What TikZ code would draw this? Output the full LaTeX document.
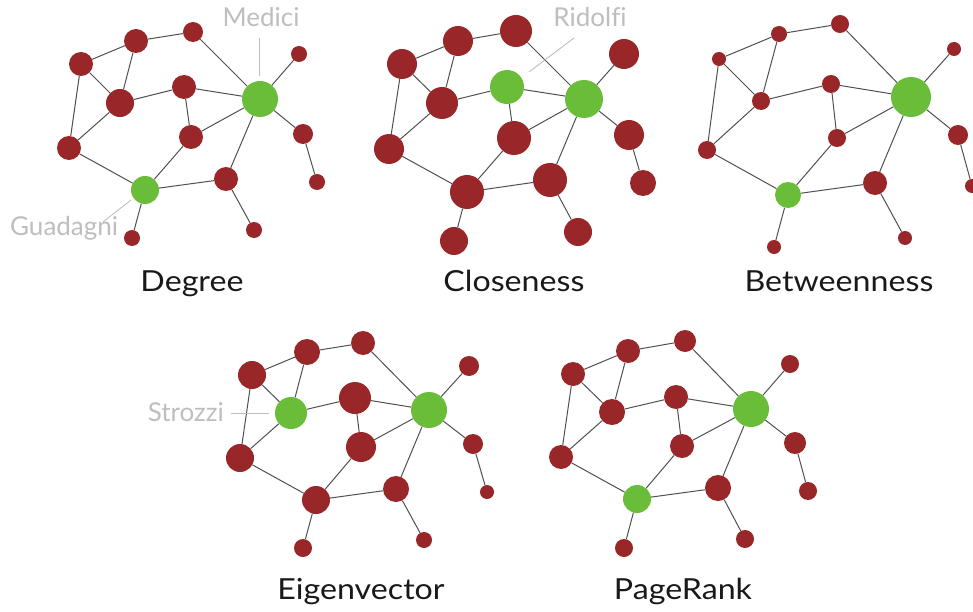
\documentclass[tikz,border=0pt]{standalone}
\usepackage{fontspec}
\setmainfont{Lato}[Ligatures=NoCommon]
\newfontfamily\titlefont{Lato}[FakeStretch=1.11]
\definecolor{nodered}{RGB}{153,38,40}
\definecolor{nodegreen}{RGB}{106,189,56}
\definecolor{edgegray}{RGB}{80,80,80}
\definecolor{labelgray}{RGB}{190,190,190}
\definecolor{titleblack}{RGB}{25,25,25}

% Florentine families network: the same twenty ties in every panel
\newcommand\netedges[1]{%
  \foreach \u/\v in {A/B,A/F,B/C,B/D,C/D,C/I,D/E,D/I,E/F,E/H,H/F,H/J,I/J,J/K,K/F,F/G,F/L,L/M,J/N,K/O}
    \draw[edge] (#1\u) -- (#1\v);}

\begin{document}
\begin{tikzpicture}[x=1pt,y=-1pt,
  rn/.style={circle, fill=nodered, draw=none, inner sep=0pt, minimum size=#1},
  gn/.style={circle, fill=nodegreen, draw=none, inner sep=0pt, minimum size=#1},
  edge/.style={draw=edgegray, line width=1pt},
  title/.style={anchor=base, text=titleblack, font=\titlefont\fontsize{29}{34}\selectfont, inner sep=0pt},
  famlabel/.style={text=labelgray, font=\fontsize{26}{30}\selectfont, inner sep=0pt},
  lead/.style={draw=labelgray, line width=0.9pt}]
\useasboundingbox (0,0) rectangle (973,612);
\clip (0,0) rectangle (973,612);

% ---------- Degree ----------
\node[rn=20pt] (dA) at (193,32) {};
\node[rn=24pt] (dB) at (136,41) {};
\node[rn=24pt] (dC) at (81,64) {};
\node[rn=28pt] (dD) at (120,103) {};
\node[rn=24pt] (dE) at (184,87) {};
\node[gn=36pt] (dF) at (260,99) {};
\node[rn=16pt] (dG) at (299,54) {};
\node[rn=24pt] (dH) at (191,137) {};
\node[rn=24pt] (dI) at (69,148) {};
\node[gn=28pt] (dJ) at (145,190) {};
\node[rn=24pt] (dK) at (226,179) {};
\node[rn=20pt] (dL) at (303,134) {};
\node[rn=16pt] (dM) at (317,182) {};
\node[rn=16pt] (dN) at (132,238) {};
\node[rn=16pt] (dO) at (254,230) {};
\netedges{d}
\node[title] (tDeg) at (192,291) {Degree};
\node[famlabel] (lMed) at (261,17) {Medici};
\coordinate (mA) at (259,38);
\coordinate (mB) at (259,76);
\draw[lead] (mA) -- (mB);
\node[famlabel, anchor=west] (lGua) at (10,228) {Guadagni};
\coordinate (gA) at (103,222);
\coordinate (gB) at (131,200);
\draw[lead] (gA) -- (gB);

% ---------- Closeness ----------
\node[rn=32pt] (cA) at (516,31) {};
\node[rn=30pt] (cB) at (458,41) {};
\node[rn=30pt] (cC) at (402,64) {};
\node[rn=32pt] (cD) at (442,103) {};
\node[gn=34pt] (cE) at (507,87) {};
\node[gn=38pt] (cF) at (584,99) {};
\node[rn=30pt] (cG) at (624,54) {};
\node[rn=34pt] (cH) at (514,138) {};
\node[rn=30pt] (cI) at (389,149) {};
\node[rn=34pt] (cJ) at (467,192) {};
\node[rn=34pt] (cK) at (550,180) {};
\node[rn=30pt] (cL) at (629,135) {};
\node[rn=26pt] (cM) at (643,183) {};
\node[rn=28pt] (cN) at (454,241) {};
\node[rn=28pt] (cO) at (578,232) {};
\netedges{c}
\node[title] (tClo) at (514,291) {Closeness};
\node[famlabel] (lRid) at (590,17) {Ridolfi};
\coordinate (rA) at (574,38);
\coordinate (rB) at (529,72);
\draw[lead] (rA) -- (rB);

% ---------- Betweenness ----------
\node[rn=18pt] (bA) at (840,24) {};
\node[rn=16pt] (bB) at (779,34) {};
\node[rn=14pt] (bC) at (719,59) {};
\node[rn=18pt] (bD) at (761,101) {};
\node[rn=18pt] (bE) at (831,84) {};
\node[gn=40pt] (bF) at (911,97) {};
\node[rn=14pt] (bG) at (954,49) {};
\node[rn=18pt] (bH) at (837,138) {};
\node[rn=18pt] (bI) at (707,150) {};
\node[gn=26pt] (bJ) at (788,195) {};
\node[rn=24pt] (bK) at (875,183) {};
\node[rn=20pt] (bL) at (958,135) {};
\node[rn=14pt] (bM) at (972,186) {};
\node[rn=14pt] (bN) at (774,247) {};
\node[rn=14pt] (bO) at (905,238) {};
\netedges{b}
\node[title] (tBet) at (839,291) {Betweenness};

% ---------- Eigenvector ----------
\node[rn=24pt] (eA) at (363,343) {};
\node[rn=26pt] (eB) at (307,352) {};
\node[rn=28pt] (eC) at (252,375) {};
\node[gn=32pt] (eD) at (291,413) {};
\node[rn=32pt] (eE) at (355,398) {};
\node[gn=36pt] (eF) at (429,410) {};
\node[rn=20pt] (eG) at (469,366) {};
\node[rn=30pt] (eH) at (361,447) {};
\node[rn=28pt] (eI) at (240,458) {};
\node[rn=28pt] (eJ) at (316,500) {};
\node[rn=26pt] (eK) at (396,489) {};
\node[rn=20pt] (eL) at (473,444) {};
\node[rn=14pt] (eM) at (487,492) {};
\node[rn=18pt] (eN) at (303,548) {};
\node[rn=16pt] (eO) at (424,540) {};
\netedges{e}
\node[title] (tEig) at (361,599) {Eigenvector};
\node[famlabel, anchor=east] (lStr) at (224,412) {Strozzi};
\coordinate (sA) at (231,413);
\coordinate (sB) at (269,413);
\draw[lead] (sA) -- (sB);

% ---------- PageRank ----------
\node[rn=22pt] (pA) at (685,341) {};
\node[rn=24pt] (pB) at (628,351) {};
\node[rn=24pt] (pC) at (573,374) {};
\node[rn=26pt] (pD) at (612,412) {};
\node[rn=24pt] (pE) at (676,397) {};
\node[gn=36pt] (pF) at (751,409) {};
\node[rn=18pt] (pG) at (790,364) {};
\node[rn=24pt] (pH) at (682,446) {};
\node[rn=24pt] (pI) at (561,457) {};
\node[gn=28pt] (pJ) at (637,499) {};
\node[rn=26pt] (pK) at (718,488) {};
\node[rn=22pt] (pL) at (795,443) {};
\node[rn=18pt] (pM) at (808,491) {};
\node[rn=18pt] (pN) at (624,548) {};
\node[rn=18pt] (pO) at (745,539) {};
\netedges{p}
\node[title] (tPR) at (683,599) {PageRank};
\end{tikzpicture}
\end{document}
